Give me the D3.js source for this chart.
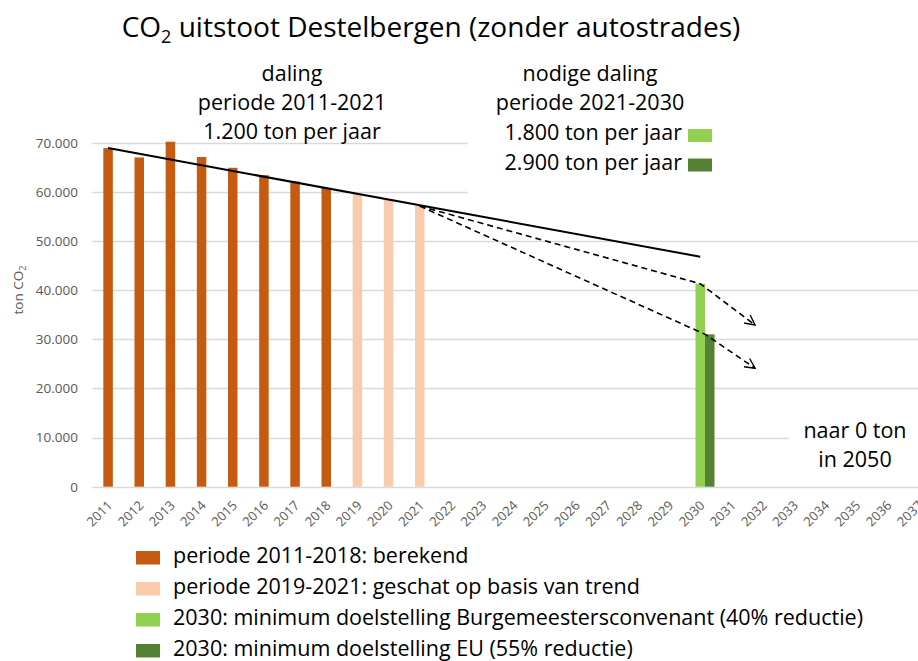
<!DOCTYPE html>
<html lang="nl">
<head>
<meta charset="utf-8">
<script src="https://cdn.jsdelivr.net/npm/d3@7"></script>
<style>
  body { margin: 0; background: #fff; }
  svg { display: block; font-family: "Open Sans", sans-serif; }
</style>
</head>
<body>
<svg id="chart" width="918" height="661"></svg>
<script>
// categories on the x axis
var years = ["2011","2012","2013","2014","2015","2016","2017","2018","2019","2020","2021","2022","2023","2024",
             "2025","2026","2027","2028","2029","2030","2031","2032","2033","2034","2035","2036","2037"];

// measured emissions
var calcYears = ["2011","2012","2013","2014","2015","2016","2017","2018"];
var calcValues = [68900, 67000, 70200, 67100, 64900, 63400, 62100, 60800];

// estimates
var estYears = ["2019","2020","2021"];
var estValues = [59600, 58500, 57100];

// 2030 targets
var targetYear = "2030";
var target40 = 41300;
var target55 = 31000;

// trend line 2011-2030 and the two needed paths
var trendYears = [2011, 2030];
var trendValues = [68900, 46800];
var path40Years = [2021, 2030, 2031.76];
var path40Values = [57100, 41300, 32900];
var path55Years = [2021, 2030.16, 2031.76];
var path55Values = [57100, 31000, 24100];

var yTicks = [0, 10000, 20000, 30000, 40000, 50000, 60000, 70000];

var legendLabels = [
  "periode 2011-2018: berekend",
  "periode 2019-2021: geschat op basis van trend",
  "2030: minimum doelstelling Burgemeestersconvenant (40% reductie)",
  "2030: minimum doelstelling EU (55% reductie)"
];
var colors = ["#C55A11", "#F8CBAD", "#92D050", "#548235"];

var svg = d3.select("#chart");

var nl = d3.formatLocale({decimal: ",", thousands: ".", grouping: [3], currency: ["€", ""]});
var fmt = nl.format(",");

var x = d3.scaleBand()
    .domain(years)
    .range([92.5, 934])
    .padding(0);

var bw = 9.5;

var xc = d3.scaleLinear()
    .domain([2011, 2037])
    .range([x("2011") + x.bandwidth() / 2, x("2037") + x.bandwidth() / 2]);

var y = d3.scaleLinear()
    .domain([0, 70000])
    .range([486.7, 142.7]);

/*
 grid
 */
svg.append("g")
    .selectAll("line")
    .data(yTicks)
    .enter()
    .append("line")
    .attr("x1", 92.5)
    .attr("x2", 918)
    .attr("y1", function(d){ return Math.round(y(d)) + 0.5; })
    .attr("y2", function(d){ return Math.round(y(d)) + 0.5; })
    .style("stroke", "#D9D9D9")
    .style("stroke-width", 1.3);

// y axis labels
var yAxis = svg.append("g")
    .attr("transform", "translate(82,0)")
    .call(d3.axisLeft(y).tickValues(yTicks).tickFormat(fmt).tickSize(0).tickPadding(4));
yAxis.select(".domain").remove();
yAxis.selectAll("text")
    .style("font-family", "Open Sans")
    .style("font-size", "13.5px")
    .style("fill", "#595959");

// x axis labels, rotated
var xAxis = svg.append("g")
    .attr("transform", "translate(0,487)")
    .call(d3.axisBottom(x).tickSize(0));
xAxis.select(".domain").remove();
xAxis.selectAll("text")
    .style("font-family", "Open Sans")
    .style("font-size", "13px")
    .style("fill", "#595959")
    .style("text-anchor", "end")
    .attr("x", 0)
    .attr("y", 0)
    .attr("dy", "0.35em")
    .attr("transform", "translate(2,16) rotate(-45)");

// ton CO2 title
svg.append("text")
    .attr("transform", "translate(23,290) rotate(-90)")
    .style("text-anchor", "middle")
    .style("font-size", "13.5px")
    .style("fill", "#595959")
    .html('ton CO<tspan dy="3" font-size="9px">2</tspan>');

/*
 bars
 */
svg.append("g")
    .selectAll("rect")
    .data(calcYears)
    .enter()
    .append("rect")
    .attr("x", function(d){ return x(d) + x.bandwidth() / 2 - bw / 2; })
    .attr("width", bw)
    .attr("y", function(d, i){ return y(calcValues[i]); })
    .attr("height", function(d, i){ return y(0) - y(calcValues[i]); })
    .style("fill", colors[0]);

svg.append("g")
    .selectAll("rect")
    .data(estYears)
    .enter()
    .append("rect")
    .attr("x", function(d){ return x(d) + x.bandwidth() / 2 - bw / 2; })
    .attr("width", bw)
    .attr("y", function(d, i){ return y(estValues[i]); })
    .attr("height", function(d, i){ return y(0) - y(estValues[i]); })
    .style("fill", colors[1]);

svg.append("rect")
    .attr("x", x(targetYear) + x.bandwidth() / 2 - bw / 2)
    .attr("width", bw)
    .attr("y", y(target40))
    .attr("height", y(0) - y(target40))
    .style("fill", colors[2]);

svg.append("rect")
    .attr("x", x(targetYear) + x.bandwidth() / 2 + bw / 2)
    .attr("width", bw)
    .attr("y", y(target55))
    .attr("height", y(0) - y(target55))
    .style("fill", colors[3]);

/*
 lines
 */
var line = d3.line()
    .x(function(d){ return xc(d[0]); })
    .y(function(d){ return y(d[1]); });

svg.append("defs").append("marker")
    .attr("id", "arrow")
    .attr("viewBox", "0 0 12 12")
    .attr("refX", 11)
    .attr("refY", 6)
    .attr("markerWidth", 12)
    .attr("markerHeight", 12)
    .attr("markerUnits", "userSpaceOnUse")
    .attr("orient", "auto")
    .append("path")
    .attr("d", "M1,1 L11,6 L1,11")
    .style("fill", "none")
    .style("stroke", "#000")
    .style("stroke-width", 1.4);

svg.append("path")
    .datum(d3.zip(trendYears, trendValues))
    .attr("d", line)
    .style("fill", "none")
    .style("stroke", "#000")
    .style("stroke-width", 2);

[d3.zip(path40Years, path40Values), d3.zip(path55Years, path55Values)].forEach(function(p){
    svg.append("path")
        .datum(p)
        .attr("d", line)
        .attr("marker-end", "url(#arrow)")
        .style("fill", "none")
        .style("stroke", "#000")
        .style("stroke-width", 1.6)
        .style("stroke-dasharray", "6,4");
});

/*
 text boxes (white fill hides the grid)
 */
svg.append("rect")
    .attr("x", 468).attr("y", 55).attr("width", 450).attr("height", 146)
    .style("fill", "#fff");
svg.append("rect")
    .attr("x", 789).attr("y", 405).attr("width", 129).attr("height", 72)
    .style("fill", "#fff");

svg.append("text")
    .attr("x", 431)
    .attr("y", 37)
    .style("text-anchor", "middle")
    .style("font-size", "28px")
    .style("fill", "#000")
    .html('CO<tspan dy="6" font-size="18px">2</tspan><tspan dy="-6"> uitstoot Destelbergen (zonder autostrades)</tspan>');

var leftNote = ["daling", "periode 2011-2021", "1.200 ton per jaar"];
svg.append("g")
    .selectAll("text")
    .data(leftNote)
    .enter()
    .append("text")
    .attr("x", 292)
    .attr("y", function(d, i){ return 81 + i * 29; })
    .style("text-anchor", "middle")
    .style("font-size", "21.5px")
    .text(function(d){ return d; });

var rightNote = ["nodige daling", "periode 2021-2030"];
svg.append("g")
    .selectAll("text")
    .data(rightNote)
    .enter()
    .append("text")
    .attr("x", 590)
    .attr("y", function(d, i){ return 81 + i * 29; })
    .style("text-anchor", "middle")
    .style("font-size", "21.5px")
    .text(function(d){ return d; });

var rateNote = ["1.800 ton per jaar", "2.900 ton per jaar"];
svg.append("g")
    .selectAll("text")
    .data(rateNote)
    .enter()
    .append("text")
    .attr("x", 682)
    .attr("y", function(d, i){ return 140 + i * 30; })
    .style("text-anchor", "end")
    .style("font-size", "21.5px")
    .text(function(d){ return d; });
svg.append("g")
    .selectAll("rect")
    .data(rateNote)
    .enter()
    .append("rect")
    .attr("x", 688)
    .attr("y", function(d, i){ return 129 + i * 29.5; })
    .attr("width", 24)
    .attr("height", 13)
    .style("fill", function(d, i){ return colors[i + 2]; });

var endNote = ["naar 0 ton", "in 2050"];
svg.append("g")
    .selectAll("text")
    .data(endNote)
    .enter()
    .append("text")
    .attr("x", 855)
    .attr("y", function(d, i){ return 438 + i * 28.5; })
    .style("text-anchor", "middle")
    .style("font-size", "21.5px")
    .text(function(d){ return d; });

/*
 legend
 */
var legend = svg.append("g")
    .selectAll("g")
    .data(legendLabels)
    .enter()
    .append("g")
    .attr("transform", function(d, i){ return "translate(136," + (551 + i * 31) + ")"; });
legend.append("rect")
    .attr("width", 24)
    .attr("height", 13.5)
    .style("fill", function(d, i){ return colors[i]; });
legend.append("text")
    .attr("x", 37)
    .attr("y", 12)
    .style("font-size", "21.5px")
    .text(function(d){ return d; });
</script>
</body>
</html>
